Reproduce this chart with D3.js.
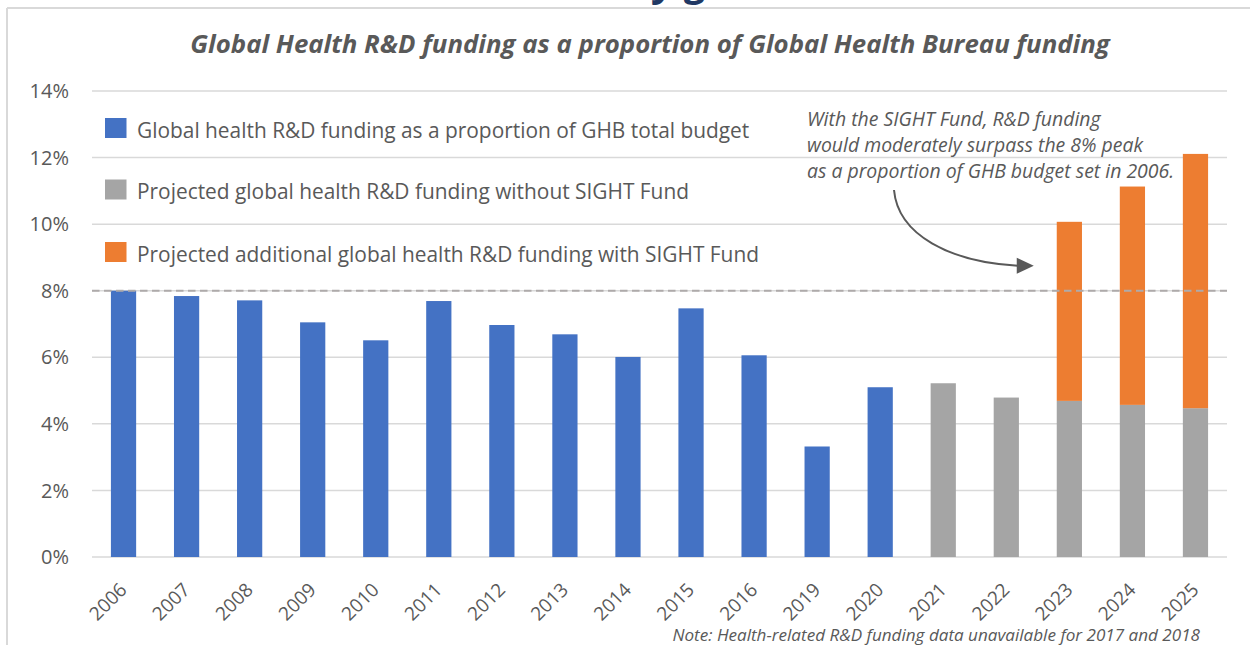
<!DOCTYPE html>
<html><head><meta charset="utf-8">
<script src="https://cdn.jsdelivr.net/npm/d3@7"></script>
<style>
body{margin:0;background:#fff}
svg{display:block}
text{font-family:"Open Sans",sans-serif}
</style></head>
<body><svg id="c" width="1250" height="645"></svg>
<script>
// ---- data ----
const years = ["2006","2007","2008","2009","2010","2011","2012","2013","2014","2015","2016","2019","2020","2021","2022","2023","2024","2025"];
const actualShare     = [8.00,7.84,7.71,7.05,6.51,7.69,6.97,6.69,6.01,7.47,6.06,3.32,5.10,0,0,0,0,0];
const projectedShare  = [0,0,0,0,0,0,0,0,0,0,0,0,0,5.22,4.79,4.69,4.57,4.47];
const sightAdditional = [0,0,0,0,0,0,0,0,0,0,0,0,0,0,0,5.38,6.56,7.64];
const yTicks = [0,2,4,6,8,10,12,14];
const peakShare = 8;
const seriesKeys = ["actual","projected","sight"];
const legendLabels = [
  "Global health R&D funding as a proportion of GHB total budget",
  "Projected global health R&D funding without SIGHT Fund",
  "Projected additional global health R&D funding with SIGHT Fund"
];
const titleText = "Global Health R&D funding as a proportion of Global Health Bureau funding";
const annotationLines = [
  "With the SIGHT Fund, R&D funding",
  "would moderately surpass the 8% peak",
  "as a proportion of GHB budget set in 2006."
];
const noteText = "Note: Health-related R&D funding data unavailable for 2017 and 2018";

// ---- styles ----
const colors = {actual:"#4472C4", projected:"#A5A5A5", sight:"#ED7D31"};
const textColor = "#595959";
const gridColor = "#d9d9d9";

const svg = d3.select("#c");
const table = years.map((y,i)=>({year:y, actual:actualShare[i], projected:projectedShare[i], sight:sightAdditional[i]}));

const x = d3.scaleBand().domain(years).range([92,1227]).paddingInner(0.6).paddingOuter(0.3);
const y = d3.scaleLinear().domain([0,14]).range([557,91]);

function fit(sel, target){
  const w = sel.node().getComputedTextLength();
  const fs = parseFloat(sel.attr("font-size"));
  sel.attr("font-size", fs*target/w);
  return fs*target/w;
}

// frame
svg.append("line").attr("x1",7).attr("x2",7).attr("y1",8).attr("y2",645).attr("stroke",gridColor).attr("stroke-width",2);
svg.append("line").attr("x1",7).attr("x2",1250).attr("y1",8).attr("y2",8).attr("stroke",gridColor).attr("stroke-width",2);

// cut-off heading above frame
svg.append("text").attr("x",655).attr("y",-4).attr("font-size",40).attr("font-weight","bold").attr("font-style","italic")
  .attr("fill","#203864").text("y g");

// title
const title = svg.append("text").attr("x",650).attr("y",53).attr("text-anchor","middle")
  .attr("font-size",22).attr("font-weight","bold").attr("font-style","italic").attr("fill",textColor).text(titleText);
fit(title, 920);

// gridlines
svg.append("g").selectAll("line").data(yTicks).join("line")
  .attr("x1",92).attr("x2",1227).attr("y1",d=>y(d)).attr("y2",d=>y(d))
  .attr("stroke",gridColor).attr("stroke-width",1.5);

// y labels
svg.append("g").selectAll("text").data(yTicks).join("text")
  .attr("x",69).attr("y",d=>y(d)).attr("dy","0.36em").attr("text-anchor","end")
  .attr("font-size",20).attr("fill",textColor).text(d=>d+"%");

// bars
const stacked = d3.stack().keys(seriesKeys)(table);
svg.append("g").selectAll("g").data(stacked).join("g").attr("fill",d=>colors[d.key])
  .selectAll("rect").data(d=>d.filter(s=>s[1]-s[0]>0)).join("rect")
  .attr("x",d=>x(d.data.year)).attr("width",x.bandwidth())
  .attr("y",d=>y(d[1])).attr("height",d=>y(d[0])-y(d[1]));

// 8% dashed reference
svg.append("line").attr("x1",92).attr("x2",1227).attr("y1",y(peakShare)).attr("y2",y(peakShare))
  .attr("stroke","#aeaaaa").attr("stroke-width",2).attr("stroke-dasharray","7.5,4.5");

// x labels
svg.append("g").selectAll("text").data(years).join("text")
  .attr("transform",d=>`translate(${x(d)+x.bandwidth()/2+4.5},${591}) rotate(-45)`)
  .attr("text-anchor","end").attr("font-size",19).attr("fill",textColor).text(d=>d);

// legend
const legBase = [137.5, 199, 261.5];
const lg = svg.append("g");
const legTexts = legendLabels.map((t,i)=>{
  lg.append("rect").attr("x",105).attr("y",legBase[i]-19.5).attr("width",21.5).attr("height",20).attr("fill",colors[seriesKeys[i]]);
  return lg.append("text").attr("x",137).attr("y",legBase[i]).attr("font-size",20).attr("fill",textColor).text(t);
});
const lfs = fit(legTexts[0], 613);
legTexts.forEach(t=>t.attr("font-size",lfs));

// annotation
const ann = annotationLines.map((t,i)=>svg.append("text").attr("x",807).attr("y",126+i*26.2)
  .attr("font-size",18).attr("font-style","italic").attr("fill",textColor).text(t));
const afs = fit(ann[1], 336);
ann.forEach(t=>t.attr("font-size",afs));

const tipX = x("2023") - 23, tipY = y(peakShare) - 25;
svg.append("path").attr("d",`M894,190 C898,235 950,262 ${tipX-16},${tipY}`)
  .attr("fill","none").attr("stroke","#595959").attr("stroke-width",2);
svg.append("path").attr("d",`M${tipX},${tipY} L${tipX-17},${tipY-8} L${tipX-17},${tipY+8} Z`).attr("fill","#595959");

// note
const note = svg.append("text").attr("x",1200).attr("y",641).attr("text-anchor","end")
  .attr("font-size",15).attr("font-style","italic").attr("fill",textColor).text(noteText);
fit(note, 528);
</script></body></html>
